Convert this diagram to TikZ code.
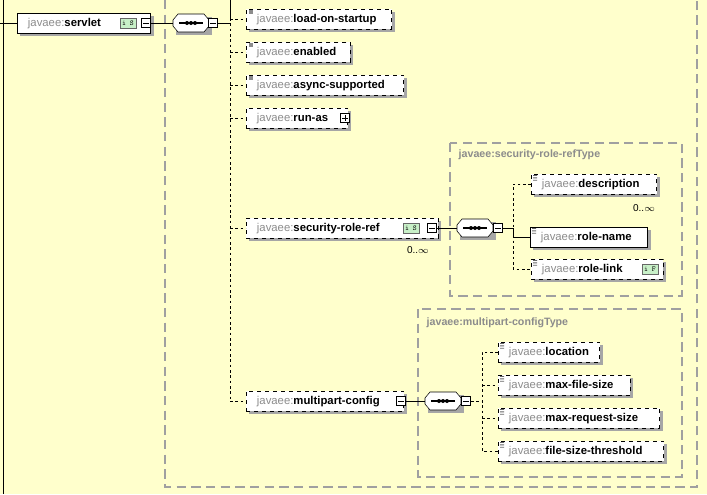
\documentclass[tikz,border=0pt]{standalone}
\usepackage{fontspec}
\setmainfont{Liberation Sans}
\usetikzlibrary{shadows}
\definecolor{bg}{HTML}{FFFFCC}
\definecolor{jg}{HTML}{8C8C8C}
\definecolor{frm}{HTML}{A0A0A0}
\definecolor{icg}{HTML}{C8F0C8}
\newcommand\jv[1]{\textcolor{jg}{javaee:}\textbf{#1}}
\newcommand\octo[3]{%
  \fill[black!35] (#2-15,#3-6) -- (#2+21,#3-6) -- (#2+21,#3+12) -- (#2-15,#3+12) -- cycle;
  \draw[fill=white] (#2-13,#3-9) -- (#2+13,#3-9) -- (#2+18,#3-3) -- (#2+18,#3+3) -- (#2+13,#3+9) -- (#2-13,#3+9) -- (#2-18,#3+3) -- (#2-18,#3-3) -- cycle;
  \node[minimum width=27pt,minimum height=13.5pt,inner sep=0pt] (#1) at (#2,#3) {};
  \draw[line width=0.8pt] (#2-12,#3) -- (#2+12,#3);
  \fill (#2-4,#3) circle (1.5pt) (#2,#3) circle (1.5pt) (#2+4,#3) circle (1.5pt);}
\begin{document}
\begin{tikzpicture}[x=0.75pt,y=-0.75pt,font=\fontsize{8.5}{10}\selectfont,
  el/.style={draw,dashed,fill=white,anchor=west,minimum height=15pt,inner sep=0pt,
     text height=6.5pt,text depth=1.8pt,align=left,
     drop shadow={shadow xshift=2.2pt,shadow yshift=-2.2pt,fill=black!35,opacity=1}},
  sel/.style={el,solid},
  mn/.style={draw,solid,fill=white,minimum size=7pt,inner sep=0pt,
     path picture={\draw ([xshift=1.4pt]path picture bounding box.west)--([xshift=-1.4pt]path picture bounding box.east);}},
  pl/.style={mn,path picture={\draw ([xshift=1.4pt]path picture bounding box.west)--([xshift=-1.4pt]path picture bounding box.east);
     \draw ([yshift=1.4pt]path picture bounding box.south)--([yshift=-1.4pt]path picture bounding box.north);}},
  ic/.style={draw=black!60,fill=icg,minimum width=12pt,minimum height=7.5pt,inner sep=0pt,font=\fontsize{5.5}{5}\selectfont\ttfamily},
  tf/.style={draw=frm,dashed,dash pattern=on 7pt off 4pt,line width=0.8pt},
  con/.style={dashed,dash pattern=on 2pt off 2pt},
  ttl/.style={anchor=west,text=jg,font=\fontsize{8}{9}\selectfont\bfseries},
  mul/.style={font=\fontsize{7.5}{8}\selectfont}
]
\useasboundingbox (0,0) rectangle (707,494);
\fill[bg] (0,0) rectangle (707,494);
\draw[tf] (165,0) -- (165,487) -- (697,487) -- (697,0);
\draw (3,0) -- (3,494);
\draw (0,23) -- (17,23);
% servlet
\node[sel,minimum width=100pt,text width=96pt] (servlet) at (17,23) {\hspace{6pt}\jv{servlet}};
\node[ic] (ic1) at (128,23) {i S};
\node[mn] (m1) at (146,23) {};
\octo{s1}{191}{23}
\node[mn] (m2) at (213,23) {};
\draw (m1) -- (s1);
\coordinate (b0) at (230,0);
\coordinate (b1) at (230,18);
\coordinate (b7) at (230,401);
\draw (m2) -- (230,23);
\draw (b0) -- (b1);
\draw[con] (b1) -- (b7);
% children
\node[el,minimum width=109pt,text width=105pt] (c1) at (246,19) {\hspace{6pt}\jv{load-on-startup}};
\node[el,minimum width=78pt,text width=74pt] (c2) at (246,52) {\hspace{6pt}\jv{enabled}};
\node[el,minimum width=118pt,text width=114pt] (c3) at (246,85) {\hspace{6pt}\jv{async-supported}};
\node[el,minimum width=76pt,text width=72pt] (c4) at (246,118) {\hspace{6pt}\jv{run-as}};
\node[pl] (p4) at (345,118) {};
\node[el,minimum width=144pt,text width=140pt] (c5) at (246,228) {\hspace{6pt}\jv{security-role-ref}};
\node[ic] (ic5) at (411,228) {i S};
\node[mn] (m5) at (432,228) {};
\node[mul] (mu5) at (418,250) {0..$\infty$};
\node[el,minimum width=118pt,text width=114pt] (c6) at (246,401) {\hspace{6pt}\jv{multipart-config}};
\node[mn] (m6) at (401,401) {};
\foreach \c/\y in {c1/19,c2/52,c3/85,c4/118,c5/228,c6/401}{\draw[con] (230,\y) -- (\c.west);}
\foreach \c in {c1,c2,c3}{\fill[jg] ([xshift=2pt,yshift=-1pt]\c.north west) rectangle ++(3pt,-3pt);}
% type box 1
\draw[tf] (450,143) rectangle (682,296);
\node[ttl] (t1) at (454,155) {javaee:security-role-refType};
\octo{s2}{475}{228}
\node[mn] (m7) at (498,228) {};
\draw (m5) -- (s2);
\coordinate (d1) at (513,184);
\coordinate (d3) at (513,269);
\draw (m7) -- (513,228);
\node[el,minimum width=94pt,text width=90pt] (e1) at (531,184) {\hspace{6pt}\jv{description}};
\node[mul] (mu1) at (644,208) {0..$\infty$};
\node[sel,minimum width=88pt,text width=84pt] (e2) at (530,237) {\hspace{6pt}\jv{role-name}};
\node[el,minimum width=99pt,text width=95pt] (e3) at (531,269) {\hspace{6pt}\jv{role-link}};
\node[ic] (ic3) at (650,269) {i F};
\draw[con] (e1.west) -- (d1) -- (d3) -- (e3.west);
\draw (513,228) -- (513,237) -- (e2.west);
% type box 2
\draw[tf] (418,309) rectangle (682,477);
\node[ttl] (t2) at (422,323) {javaee:multipart-configType};
\octo{s3}{443}{401}
\node[mn] (m8) at (466,401) {};
\draw (m6) -- (s3);
\draw[con] (m8) -- (482,401);
\node[el,minimum width=76pt,text width=72pt] (f1) at (498,352) {\hspace{6pt}\jv{location}};
\node[el,minimum width=99pt,text width=95pt] (f2) at (498,385) {\hspace{6pt}\jv{max-file-size}};
\node[el,minimum width=121pt,text width=117pt] (f3) at (498,418) {\hspace{6pt}\jv{max-request-size}};
\node[el,minimum width=124pt,text width=120pt] (f4) at (498,451) {\hspace{6pt}\jv{file-size-threshold}};
\draw[con] (f1.west) -- (482,352) -- (482,451) -- (f4.west);
\draw[con] (482,385) -- (f2.west);
\draw[con] (482,418) -- (f3.west);
\foreach \c in {e1,e2,e3,f1,f2,f3,f4}{\fill[black!60] ([xshift=1.5pt,yshift=-1pt]\c.north west) rectangle ++(3pt,-0.6pt) ++(-3pt,-1.2pt) rectangle ++(3pt,-0.6pt) ++(-3pt,-1.2pt) rectangle ++(3pt,-0.6pt);}
\end{tikzpicture}
\end{document}
